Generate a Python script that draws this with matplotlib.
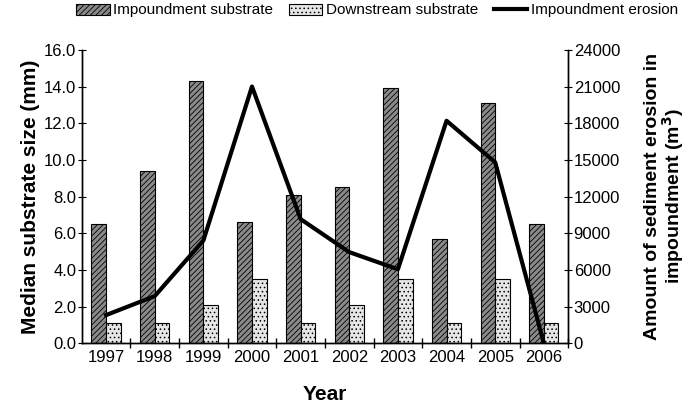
import numpy as np
import matplotlib
matplotlib.use("Agg")
import matplotlib.pyplot as plt
from matplotlib.ticker import FormatStrFormatter

plt.rcParams['font.family'] = ['Liberation Sans', 'DejaVu Sans']
plt.rcParams['hatch.linewidth'] = 0.6

years = ["1997", "1998", "1999", "2000", "2001", "2002", "2003", "2004", "2005", "2006"]
impoundment = [6.5, 9.4, 14.3, 6.6, 8.1, 8.5, 13.9, 5.7, 13.1, 6.5]
downstream = [1.1, 1.1, 2.1, 3.5, 1.1, 2.1, 3.5, 1.1, 3.5, 1.1]
erosion = [2300, 3850, 8400, 21000, 10150, 7450, 6050, 18200, 14800, 0]


def main():
    fig = plt.figure(figsize=(6.87, 4.12), dpi=100)
    ax = fig.add_axes([0.119, 0.167, 0.708, 0.712])
    ax2 = ax.twinx()

    x = np.arange(len(years))
    w = 0.3
    b1 = ax.bar(x - w / 2, impoundment, w, color="#8a8a8a", edgecolor="black",
                linewidth=0.8, hatch="//////", label="Impoundment substrate")
    b2 = ax.bar(x + w / 2, downstream, w, color="#e6e6e6", edgecolor="black",
                linewidth=0.8, hatch="....", label="Downstream substrate")

    ln, = ax2.plot(x, erosion, color="black", linewidth=3, label="Impoundment erosion")

    ax.set_xlim(-0.5, 9.5)
    ax.set_ylim(0, 16)
    ax.set_yticks(np.arange(0, 16.1, 2))
    ax.yaxis.set_major_formatter(FormatStrFormatter("%.1f"))
    ax2.set_ylim(0, 24000)
    ax2.set_yticks(np.arange(0, 24001, 3000))

    ax.set_xticks(x)
    ax.set_xticklabels(years)
    ax.set_xticks(np.arange(0.5, 9.6, 1), minor=True)
    ax.tick_params(axis="x", which="major", length=0, labelsize=12, pad=5)
    ax.tick_params(axis="x", which="minor", length=7, direction="inout", width=1)
    ax.tick_params(axis="y", labelsize=12, direction="inout", length=6, pad=1)
    ax2.tick_params(axis="y", labelsize=12, direction="inout", length=6, pad=1)

    for a in (ax, ax2):
        a.spines["top"].set_visible(False)
        for s in ("left", "right", "bottom"):
            a.spines[s].set_linewidth(1.0)

    ax.set_xlabel("Year", fontsize=15, fontweight="bold", labelpad=14)
    ax.set_ylabel("Median substrate size (mm)", fontsize=15, fontweight="bold",
                  labelpad=3)
    ax2.set_ylabel("Amount of sediment erosion in\nimpoundment (m$^\\mathbf{3}$)",
                   fontsize=14, fontweight="bold", labelpad=17, linespacing=0.95)

    fig.legend([b1, b2, ln], ["Impoundment substrate", "Downstream substrate",
                              "Impoundment erosion"],
               loc="upper center", bbox_to_anchor=(0.549, 1.025), ncol=3,
               frameon=False, fontsize=11, handlelength=2.2, handleheight=0.75,
               columnspacing=1.0, handletextpad=0.25)

    fig.savefig("out.png", dpi=100)


if __name__ == "__main__":
    main()
